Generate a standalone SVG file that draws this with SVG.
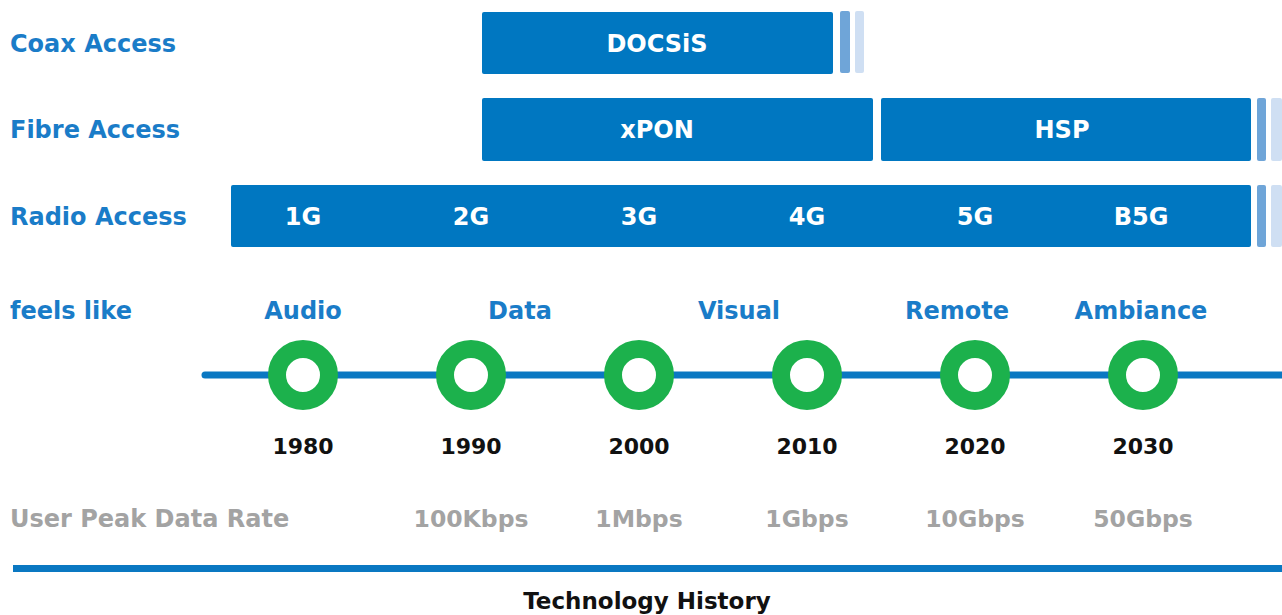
<svg xmlns="http://www.w3.org/2000/svg" width="1282" height="615" viewBox="0 0 1282 615">
<style>
text{font-family:"DejaVu Sans","Liberation Sans",sans-serif;font-weight:700}
.bar{fill:#0077c1}
.s1{fill:#6fa5d8}
.s2{fill:#cfdff3}
.bt{fill:#ffffff;font-size:24px;text-anchor:middle}
.lab{fill:#1a7cc8;font-size:24px}
.feel{fill:#1a7cc8;font-size:24px;text-anchor:middle}
.yr{fill:#111111;font-size:22px;text-anchor:middle}
.rate{fill:#a3a3a3;font-size:23.5px;text-anchor:middle}
.ring{fill:#ffffff;stroke:#1cb14c;stroke-width:18}
</style>
<rect width="1282" height="615" fill="#ffffff"/>
<g id="row-labels">
<text class="lab" x="10" y="52">Coax Access</text>
<text class="lab" x="10" y="138">Fibre Access</text>
<text class="lab" x="10" y="225">Radio Access</text>
<text class="lab" x="10" y="319">feels like</text>
<text class="lab" x="10" y="527" style="fill:#a3a3a3">User Peak Data Rate</text>
</g>
<g id="coax">
<rect class="bar" x="482" y="12" width="351" height="62" rx="2"/>
<rect class="s1" x="840" y="11" width="10" height="62" rx="2"/>
<rect class="s2" x="855" y="11" width="9" height="62" rx="2"/>
<text class="bt" x="657" y="52">DOCSiS</text>
</g>
<g id="fibre">
<rect class="bar" x="482" y="98" width="391" height="63" rx="2"/>
<text class="bt" x="657" y="138">xPON</text>
<rect class="bar" x="881" y="98" width="370" height="63" rx="2"/>
<text class="bt" x="1062" y="138">HSP</text>
<rect class="s1" x="1257" y="98" width="9" height="63" rx="2"/>
<rect class="s2" x="1271" y="98" width="11" height="63" rx="2"/>
</g>
<g id="radio">
<rect class="bar" x="231" y="185" width="1020" height="62" rx="2"/>
<rect class="s1" x="1257" y="185" width="9" height="62" rx="2"/>
<rect class="s2" x="1271" y="185" width="11" height="62" rx="2"/>
<text class="bt" x="303" y="225">1G</text>
<text class="bt" x="471" y="225">2G</text>
<text class="bt" x="639" y="225">3G</text>
<text class="bt" x="807" y="225">4G</text>
<text class="bt" x="975" y="225">5G</text>
<text class="bt" x="1141" y="225">B5G</text>
</g>
<g id="connectors">
<line x1="205" y1="375" x2="1282" y2="375" stroke="#0a78c2" stroke-width="7" stroke-linecap="round"/>
</g>
<g id="feels">
<text class="feel" x="303" y="319">Audio</text>
<text class="feel" x="520" y="319">Data</text>
<text class="feel" x="739" y="319">Visual</text>
<text class="feel" x="957" y="319">Remote</text>
<text class="feel" x="1141" y="319">Ambiance</text>
</g>
<g id="m1980"><circle class="ring" cx="303" cy="375" r="26"/><text class="yr" x="303" y="454">1980</text></g>
<g id="m1990"><circle class="ring" cx="471" cy="375" r="26"/><text class="yr" x="471" y="454">1990</text></g>
<g id="m2000"><circle class="ring" cx="639" cy="375" r="26"/><text class="yr" x="639" y="454">2000</text></g>
<g id="m2010"><circle class="ring" cx="807" cy="375" r="26"/><text class="yr" x="807" y="454">2010</text></g>
<g id="m2020"><circle class="ring" cx="975" cy="375" r="26"/><text class="yr" x="975" y="454">2020</text></g>
<g id="m2030"><circle class="ring" cx="1143" cy="375" r="26"/><text class="yr" x="1143" y="454">2030</text></g>
<g id="rates">
<text class="rate" x="471" y="527">100Kbps</text>
<text class="rate" x="639" y="527">1Mbps</text>
<text class="rate" x="807" y="527">1Gbps</text>
<text class="rate" x="975" y="527">10Gbps</text>
<text class="rate" x="1143" y="527">50Gbps</text>
</g>
<g id="footer">
<rect x="13" y="565" width="1269" height="7" fill="#0a78c2"/>
<text x="647" y="609" style="fill:#111111;font-size:23px;text-anchor:middle">Technology History</text>
</g>
</svg>
